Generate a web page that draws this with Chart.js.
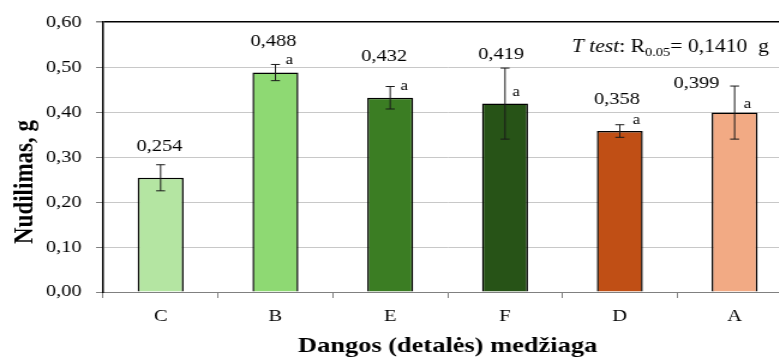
<!DOCTYPE html>
<html>
<head>
<meta charset="utf-8">
<script src="https://cdn.jsdelivr.net/npm/chart.js@4/dist/chart.umd.min.js"></script>
<style>
  html, body { margin: 0; padding: 0; background: #fff; overflow: hidden; }
  /* the source picture is stretched sideways, so is this */
  #wrap { width: 665px; height: 358px; transform: scaleX(1.2); transform-origin: 0 0; }
</style>
</head>
<body>
<div id="wrap"><canvas id="chart" width="665" height="358"></canvas></div>
<script>
const categories = ['C', 'B', 'E', 'F', 'D', 'A'];
const values = [0.254, 0.488, 0.432, 0.419, 0.358, 0.399];
const errors = [0.029, 0.018, 0.025, 0.079, 0.014, 0.059];
const valueLabels = ['0,254', '0,488', '0,432', '0,419', '0,358', '0,399'];
const groupLetters = ['', 'a', 'a', 'a', 'a', 'a'];
const barColors = ['#b4e5a2', '#8ed973', '#3b7d23', '#275317', '#c04f15', '#f2aa84'];
const yMin = 0, yMax = 0.6, yStep = 0.1;

// hand placed label offsets (px from bar centre / bar top)
const labelOffsets = [[-1, -31], [-1.7, -31.4], [-5, -41.6], [-3.3, -49.5], [-2.5, -31.9], [-31.7, -29.5]];
const letterOffsets = [null, [11.7, -12.4], [11.7, -11.6], [9.2, -11.5], [13.75, -10.9], [10.8, -8.5]];

const serif = "'Liberation Serif', 'Times New Roman', serif";
Chart.defaults.font.family = serif;
Chart.defaults.color = '#000';

const fmt = v => v.toFixed(2).replace('.', ',');

const extras = {
    id: 'extras',
    afterDatasetsDraw(chart) {
        const ctx = chart.ctx;
        const y = chart.scales.y;
        const meta = chart.getDatasetMeta(0);
        ctx.save();
        // error bars
        ctx.strokeStyle = '#1a1a1a';
        ctx.lineWidth = 1;
        meta.data.forEach((bar, i) => {
            const top = y.getPixelForValue(values[i] + errors[i]);
            const bot = y.getPixelForValue(values[i] - errors[i]);
            const x = bar.x;
            ctx.beginPath();
            ctx.moveTo(x, top); ctx.lineTo(x, bot);
            ctx.moveTo(x - 3.75, top); ctx.lineTo(x + 3.75, top);
            ctx.moveTo(x - 3.75, bot); ctx.lineTo(x + 3.75, bot);
            ctx.stroke();
        });
        // value labels and letters
        ctx.fillStyle = '#000';
        ctx.textAlign = 'center';
        ctx.textBaseline = 'middle';
        meta.data.forEach((bar, i) => {
            ctx.font = '17px ' + serif;
            ctx.fillText(valueLabels[i], bar.x + labelOffsets[i][0], bar.y + labelOffsets[i][1]);
            if (groupLetters[i]) {
                ctx.font = '14px ' + serif;
                ctx.fillText(groupLetters[i], bar.x + letterOffsets[i][0], bar.y + letterOffsets[i][1]);
            }
        });
        // T test note
        ctx.textAlign = 'left';
        ctx.textBaseline = 'alphabetic';
        let tx = 476.5;
        const ty = 52;
        const parts = [
            ['italic 18px ', 'T test', 0],
            ['18px ', ': R', 0],
            ['12px ', '0.05', 4],
            ['18px ', '= 0,1410  g', 0]
        ];
        parts.forEach(p => {
            ctx.font = p[0] + serif;
            ctx.fillText(p[1], tx, ty + p[2]);
            tx += ctx.measureText(p[1]).width;
        });
        // y title
        ctx.translate(21, 182);
        ctx.rotate(-Math.PI / 2);
        ctx.textAlign = 'center';
        ctx.textBaseline = 'middle';
        ctx.font = 'bold 23px ' + serif;
        ctx.fillText('Nudilimas, g', 0, 0);
        ctx.restore();
    }
};

new Chart(document.getElementById('chart'), {
    type: 'bar',
    data: {
        labels: categories,
        datasets: [{
            data: values,
            backgroundColor: barColors,
            borderColor: '#000',
            borderWidth: 1.5,
            categoryPercentage: 1,
            barPercentage: 0.4
        }]
    },
    options: {
        responsive: false,
        animation: false,
        layout: { padding: { top: 22, right: 5, left: 0, bottom: 0 } },
        plugins: { legend: { display: false }, tooltip: { enabled: false } },
        scales: {
            x: {
                grid: { drawOnChartArea: false, tickLength: 6, tickColor: '#808080', offset: true },
                border: { color: '#808080' },
                ticks: { color: '#000', font: { size: 17 }, padding: 8 },
                title: {
                    display: true,
                    text: 'Dangos (detalės) medžiaga',
                    color: '#000',
                    font: { size: 22, weight: 'bold' },
                    padding: { top: 0, bottom: -2 }
                },
                afterFit: s => { s.height = 66; }
            },
            y: {
                min: yMin,
                max: yMax,
                ticks: { stepSize: yStep, callback: v => fmt(v), color: '#000', font: { size: 17 }, padding: 12 },
                grid: {
                    color: c => Math.abs(c.tick.value - yMax) < 1e-6 ? '#000' : '#c8c8c8',
                    lineWidth: c => Math.abs(c.tick.value - yMax) < 1e-6 ? 1.5 : 1,
                    tickLength: 6,
                    tickColor: '#808080'
                },
                border: { color: '#000', width: 1.5 },
                afterFit: s => { s.width = 86; }
            }
        }
    },
    plugins: [extras]
});
</script>
</body>
</html>
